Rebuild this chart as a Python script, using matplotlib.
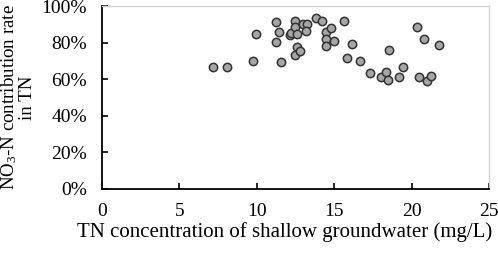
import numpy as np
import matplotlib
matplotlib.use("Agg")
import matplotlib.pyplot as plt
from matplotlib.ticker import FuncFormatter

# TN concentration (mg/L) and NO3-N share of TN (%)
tn = [7.14, 8.04, 9.72, 9.92, 11.23, 11.42, 11.23, 11.53, 12.13, 12.20,
      12.46, 12.46, 12.57, 12.57, 12.46, 12.78, 12.95, 13.25, 13.17, 13.79,
      14.22, 14.44, 14.76, 14.46, 14.46, 14.98, 15.62, 16.16, 15.84, 16.66,
      17.30, 18.00, 18.34, 18.45, 18.53, 19.20, 19.46, 20.34, 20.81, 20.45,
      21.01, 21.23, 21.75]
no3_rate = [66.5, 66.8, 69.8, 84.7, 91.1, 85.6, 80.5, 69.4, 84.3, 85.1,
            91.8, 88.7, 84.7, 77.8, 73.2, 75.6, 90.2, 90.2, 86.5, 93.3,
            91.8, 86.0, 88.1, 82.0, 78.1, 81.0, 91.8, 79.2, 71.4, 69.9,
            63.6, 61.4, 63.8, 59.6, 76.0, 61.0, 66.5, 88.5, 82.1, 61.4,
            59.2, 61.7, 78.9]

x_ticks = [0, 5, 10, 15, 20, 25]
y_ticks = [0, 20, 40, 60, 80, 100]

plt.rcParams['font.family'] = ['Liberation Serif', 'DejaVu Serif']
plt.rcParams['mathtext.fontset'] = 'custom'
plt.rcParams['mathtext.rm'] = 'Liberation Serif'
plt.rcParams['mathtext.it'] = 'Liberation Serif:italic'

fig = plt.figure(figsize=(4.98, 2.54), dpi=100)
ax = fig.add_axes([0.205, 0.256, 0.777, 0.72])

ax.scatter(tn, no3_rate, s=36, c='#a6a6a6', edgecolors='#333333',
           linewidths=1.1, zorder=3, clip_on=False)

ax.set_xlim(0, 25)
ax.set_ylim(0, 100)
ax.set_xticks(x_ticks)
ax.set_yticks(y_ticks)
ax.yaxis.set_major_formatter(FuncFormatter(lambda v, p: '%d%%' % v))

ax.tick_params(direction='in', length=4, width=1.2, labelsize=14,
               colors='black')
ax.tick_params(axis='y', pad=11)
ax.tick_params(axis='x', pad=10)

for s in ['left', 'bottom']:
    ax.spines[s].set_linewidth(1.3)
    ax.spines[s].set_color('black')
for s in ['top', 'right']:
    ax.spines[s].set_linewidth(1.0)
    ax.spines[s].set_color('#d0d0d0')

ax.set_xlabel('TN concentration of shallow groundwater (mg/L)', fontsize=15)
ax.xaxis.set_label_coords(0.473, -0.18)
ax.xaxis.label.set_va('top')
ax.set_ylabel('NO$_3$-N contribution rate\nin TN', fontsize=13.6,
              linespacing=1.0, labelpad=4)

fig.savefig('out.png', dpi=100)
